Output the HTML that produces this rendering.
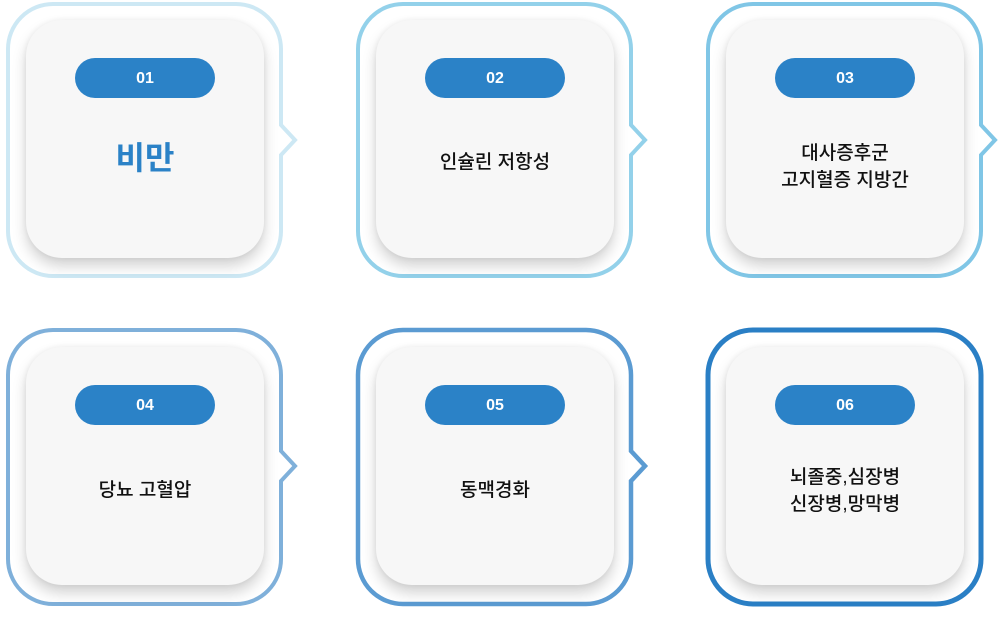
<!DOCTYPE html>
<html><head><meta charset="utf-8"><style>
body{margin:0;width:999px;height:625px;background:#fff;position:relative;overflow:hidden;font-family:"Liberation Sans","Noto Sans CJK KR",sans-serif}
svg{position:absolute;left:0;top:0}
.card{position:absolute;width:238px;height:238px;background:#f7f7f7;border-radius:36px;box-shadow:0 8px 14px rgba(0,0,0,.18),0 0 6px rgba(0,0,0,.06)}
.pill{position:absolute;left:49px;top:38px;width:140px;height:40px;border-radius:20px;background:#2b82c7;color:#fff;font-weight:bold;font-size:16px;line-height:42px;text-align:center}
.t{position:absolute;left:0;width:238px;text-align:center;font-size:19px;line-height:27px;color:#111;font-weight:500}
</style></head><body>
<svg width="999" height="625">
<g fill="#fff" stroke-width="4">
<path stroke="#cde8f4" d="M53 4H236A45 45 0 0 1 281 49V125L295 140L281 155V231A45 45 0 0 1 236 276H53A45 45 0 0 1 8 231V49A45 45 0 0 1 53 4Z"/>
<path stroke="#93d1ea" d="M403 4H586A45 45 0 0 1 631 49V125L645 140L631 155V231A45 45 0 0 1 586 276H403A45 45 0 0 1 358 231V49A45 45 0 0 1 403 4Z"/>
<path stroke="#80c6e6" d="M753 4H936A45 45 0 0 1 981 49V125L995 140L981 155V231A45 45 0 0 1 936 276H753A45 45 0 0 1 708 231V49A45 45 0 0 1 753 4Z"/>
<path stroke="#7fb0da" d="M53 330H236A45 45 0 0 1 281 375V451L295 466L281 481V559A45 45 0 0 1 236 604H53A45 45 0 0 1 8 559V375A45 45 0 0 1 53 330Z"/>
<path stroke="#5b9bd2" stroke-width="4.5" d="M403 330H586A45 45 0 0 1 631 375V451L645 466L631 481V559A45 45 0 0 1 586 604H403A45 45 0 0 1 358 559V375A45 45 0 0 1 403 330Z"/>
<path stroke="#2a7fc5" stroke-width="5" d="M753 330H936A45 45 0 0 1 981 375V559A45 45 0 0 1 936 604H753A45 45 0 0 1 708 559V375A45 45 0 0 1 753 330Z"/>
</g></svg>
<div class="card" style="left:26px;top:20px"><div class="pill">01</div><div class="t" style="top:118px;font-size:32px;line-height:40px;color:#2b82c7;font-weight:bold">비만</div></div>
<div class="card" style="left:376px;top:20px"><div class="pill">02</div><div class="t" style="top:129px">인슐린 저항성</div></div>
<div class="card" style="left:726px;top:20px"><div class="pill">03</div><div class="t" style="top:120px">대사증후군<br>고지혈증 지방간</div></div>
<div class="card" style="left:26px;top:347px"><div class="pill">04</div><div class="t" style="top:130px">당뇨 고혈압</div></div>
<div class="card" style="left:376px;top:347px"><div class="pill">05</div><div class="t" style="top:130px">동맥경화</div></div>
<div class="card" style="left:726px;top:347px"><div class="pill">06</div><div class="t" style="top:117px">뇌졸중,심장병<br>신장병,망막병</div></div>
</body></html>
